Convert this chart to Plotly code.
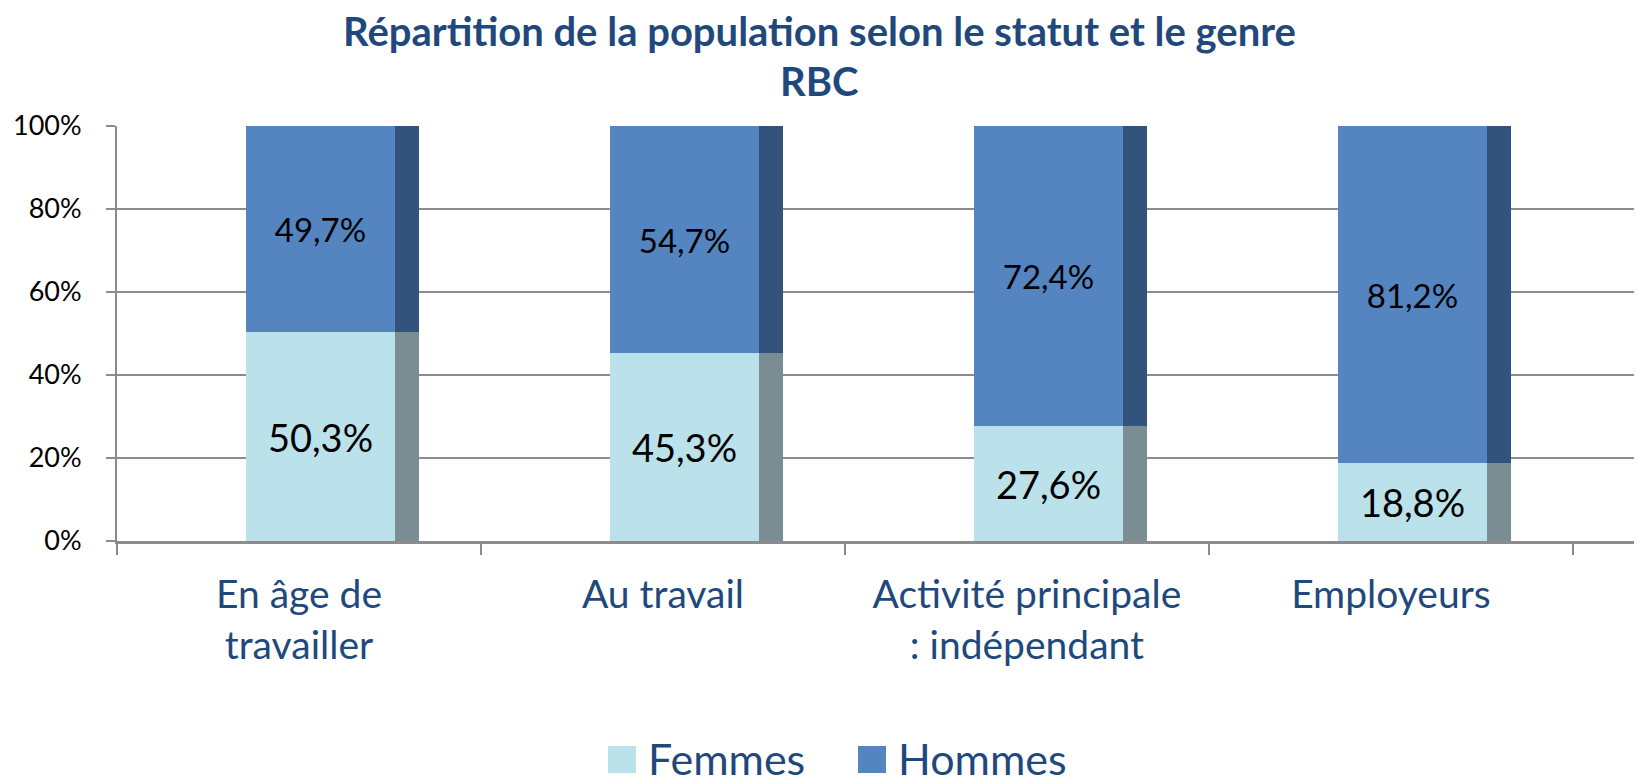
import plotly.graph_objects as go

# ---------------- data ----------------
categories = ["En âge de<br>travailler", "Au travail", "Activité principale<br>: indépendant", "Employeurs"]
femmes = [50.3, 45.3, 27.6, 18.8]
hommes = [49.7, 54.7, 72.4, 81.2]
y_ticks = [0, 20, 40, 60, 80, 100]
y_tick_labels = ["0%", "20%", "40%", "60%", "80%", "100%"]
title_line1 = "Répartition de la population selon le statut et le genre"
title_line2 = "RBC"
series_names = ["Femmes", "Hommes"]

# ---------------- style ----------------
W, H = 1637, 776
ML, MR, MT, MB = 117, 3, 126, 235
PW, PH = W - ML - MR, H - MT - MB
FONT = "Lato"
DARK_BLUE = "#1F497D"
C_F, C_F_SIDE = "#BBE2EB", "#7A8D92"
C_H, C_H_SIDE = "#5485C1", "#31537C"
GRID = "#8C8C8C"

X_MAX = 3.668
FRONT_OFF, FRONT_W = -0.146, 0.41
SIDE_OFF, SIDE_W = FRONT_OFF + FRONT_W, 0.066


def px(x):
    return (x - ML) / PW


def py(y):
    return 1 - (y - MT) / PH


fig = go.Figure()

# side (depth) faces
fig.add_trace(go.Bar(x=categories, y=femmes, base=0, offset=SIDE_OFF, width=SIDE_W,
                     marker=dict(color=C_F_SIDE, line=dict(width=0)),
                     showlegend=False, hoverinfo="skip"))
fig.add_trace(go.Bar(x=categories, y=hommes, base=femmes, offset=SIDE_OFF, width=SIDE_W,
                     marker=dict(color=C_H_SIDE, line=dict(width=0)),
                     showlegend=False, hoverinfo="skip"))

# front faces
fig.add_trace(go.Bar(x=categories, y=femmes, base=0, offset=FRONT_OFF, width=FRONT_W,
                     name=series_names[0],
                     marker=dict(color=C_F, line=dict(width=0)),
                     texttemplate="%{y:.1f}%", textposition="inside",
                     insidetextanchor="middle", textangle=0, constraintext="none",
                     textfont=dict(family=FONT, size=38, color="black"),
                     showlegend=False))
fig.add_trace(go.Bar(x=categories, y=hommes, base=femmes, offset=FRONT_OFF, width=FRONT_W,
                     name=series_names[1],
                     marker=dict(color=C_H, line=dict(width=0)),
                     texttemplate="%{y:.1f}%", textposition="inside",
                     insidetextanchor="middle", textangle=0, constraintext="none",
                     textfont=dict(family=FONT, size=33, color="black"),
                     showlegend=False))

annotations = [
    dict(text="<b>%s</b>" % title_line1, x=px(819), y=py(31), xref="paper", yref="paper",
         xanchor="center", yanchor="middle", showarrow=False,
         font=dict(family=FONT, size=40, color=DARK_BLUE)),
    dict(text="<b>%s</b>" % title_line2, x=px(819), y=py(81), xref="paper", yref="paper",
         xanchor="center", yanchor="middle", showarrow=False,
         font=dict(family=FONT, size=40, color=DARK_BLUE)),
]
shapes = []
legend_items = [(series_names[0], C_F, 608, 646), (series_names[1], C_H, 858, 896)]
for name, col, sx, tx in legend_items:
    shapes.append(dict(type="rect", xref="paper", yref="paper",
                       x0=px(sx), x1=px(sx + 28), y0=py(773), y1=py(746),
                       fillcolor=col, line=dict(width=0)))
    annotations.append(dict(text=name, x=px(tx), y=py(758), xref="paper", yref="paper",
                            xanchor="left", yanchor="middle", showarrow=False,
                            font=dict(family=FONT, size=43, color=DARK_BLUE)))

fig.update_layout(
    width=W, height=H, autosize=False,
    margin=dict(l=ML, r=MR, t=MT, b=MB, pad=0),
    paper_bgcolor="white", plot_bgcolor="white",
    barmode="overlay", bargap=0,
    separators=", ",
    font=dict(family=FONT, color="black"),
    showlegend=False,
    annotations=annotations, shapes=shapes,
    xaxis=dict(type="category", range=[-0.5, X_MAX], tickson="boundaries",
               ticks="outside", ticklen=11, tickwidth=2, tickcolor=GRID,
               showline=True, linecolor=GRID, linewidth=3,
               showgrid=False, zeroline=False,
               tickfont=dict(family=FONT, size=39, color=DARK_BLUE),
               ticklabelstandoff=17),
    yaxis=dict(range=[0, 100], tickvals=y_ticks, ticktext=y_tick_labels,
               ticks="outside", ticklen=9, tickwidth=2, tickcolor=GRID,
               showline=True, linecolor=GRID, linewidth=2,
               showgrid=True, gridcolor=GRID, gridwidth=2, zeroline=False,
               tickfont=dict(family=FONT, size=27, color="black"),
               ticklabelstandoff=19),
)

fig.write_html("out.html", config={"displayModeBar": False},
               post_script="document.body.style.margin='0px';")
